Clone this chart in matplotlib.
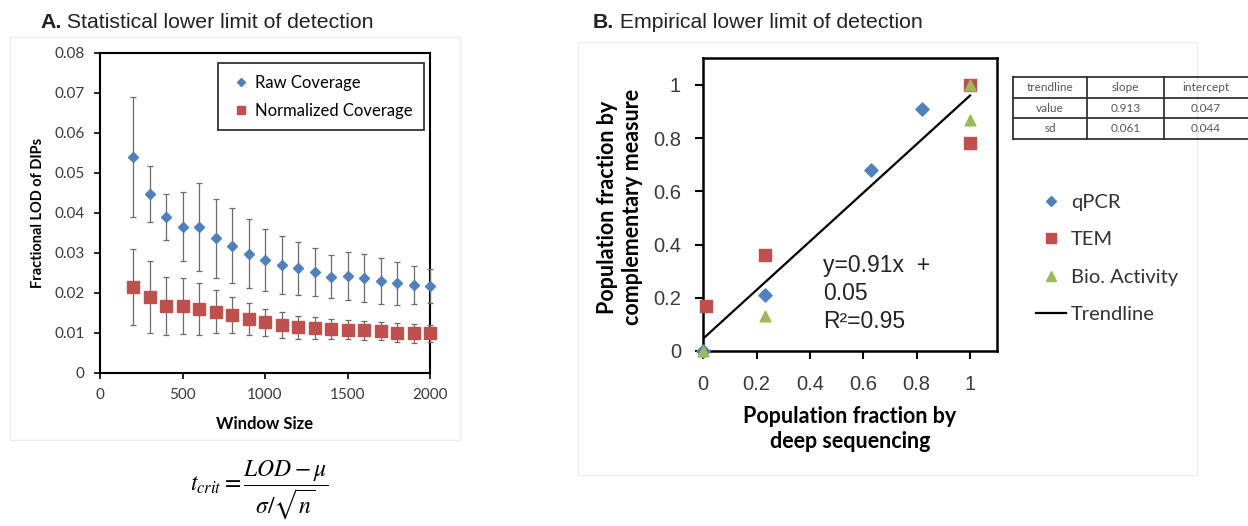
import matplotlib
matplotlib.use("Agg")
import matplotlib.pyplot as plt
from matplotlib.lines import Line2D
from matplotlib.patches import Rectangle
from matplotlib.ticker import FuncFormatter

# ---------------- data ----------------
window_size = [200, 300, 400, 500, 600, 700, 800, 900, 1000, 1100,
               1200, 1300, 1400, 1500, 1600, 1700, 1800, 1900, 2000]
raw_lod = [0.0541, 0.0448, 0.0390, 0.0366, 0.0366, 0.0337, 0.0318, 0.0298, 0.0283, 0.0270,
           0.0262, 0.0252, 0.0241, 0.0243, 0.0238, 0.0230, 0.0224, 0.0220, 0.0218]
raw_err = [0.0150, 0.0070, 0.0057, 0.0087, 0.0110, 0.0099, 0.0094, 0.0086, 0.0077, 0.0073,
           0.0066, 0.0060, 0.0053, 0.0060, 0.0060, 0.0057, 0.0053, 0.0048, 0.0042]
norm_lod = [0.0214, 0.0189, 0.0167, 0.0167, 0.0159, 0.0153, 0.0145, 0.0135, 0.0127, 0.0120,
            0.0114, 0.0112, 0.0109, 0.0108, 0.0107, 0.0105, 0.0101, 0.0099, 0.0099]
norm_err = [0.0095, 0.0090, 0.0073, 0.0070, 0.0065, 0.0054, 0.0045, 0.0040, 0.0034, 0.0033,
            0.0028, 0.0027, 0.0025, 0.0024, 0.0024, 0.0023, 0.0023, 0.0023, 0.0021]

seq_qpcr = [0.0, 0.23, 0.63, 0.82]
frac_qpcr = [0.0, 0.21, 0.68, 0.91]
seq_tem = [0.01, 0.23, 1.0, 1.0]
frac_tem = [0.17, 0.36, 0.78, 1.0]
seq_bio = [0.0, 0.23, 1.0, 1.0]
frac_bio = [0.0, 0.13, 0.87, 1.0]

trend_slope = 0.913
trend_intercept = 0.047
slope_sd = 0.061
intercept_sd = 0.044
r_squared = 0.95

table_header = ["trendline", "slope", "intercept"]
table_rows = [["value", f"{trend_slope:.3f}", f"{trend_intercept:.3f}"],
              ["sd", f"{slope_sd:.3f}", f"{intercept_sd:.3f}"]]

# ---------------- styling ----------------
W, H = 1248, 526
BLUE = "#4F81BD"
RED = "#C0504D"
GREEN = "#9BBB59"
TICK_COLOR = "#3a3a3a"
CAL = ["Lato", "DejaVu Sans"]
ARIAL = ["Liberation Sans", "DejaVu Sans"]

fig = plt.figure(figsize=(W / 100, H / 100), dpi=100)
fig.patch.set_facecolor("white")


def fx(px):
    return px / W


def fy(py):
    return 1 - py / H


def px_axes(x0, y0, x1, y1):
    return fig.add_axes([fx(x0), fy(y1), fx(x1) - fx(x0), fy(y0) - fy(y1)])


# faint panel outlines
for (x0, y0, x1, y1) in [(10, 37, 460, 440), (578, 42, 1197, 475)]:
    fig.patches.append(Rectangle((fx(x0), fy(y1)), fx(x1) - fx(x0), fy(y0) - fy(y1),
                                 transform=fig.transFigure, fill=False,
                                 edgecolor="#ececec", lw=1.0))

# ---------------- panel A ----------------
axA = px_axes(100, 53, 430, 373)
for xs, ys, es, mk, col, ms, lab in [
        (window_size, raw_lod, raw_err, "D", BLUE, 5, "Raw Coverage"),
        (window_size, norm_lod, norm_err, "s", RED, 8, "Normalized Coverage")]:
    cont = axA.errorbar(xs, ys, yerr=es, fmt=mk, color=col, ms=ms,
                        ecolor="#6b6b6b", elinewidth=0.9, capsize=2.5, capthick=0.9,
                        label=lab, zorder=3)
    cont[0].set_clip_on(False)
    for art in cont[1] + cont[2]:
        art.set_clip_on(False)
axA.set_xlim(0, 2000)
axA.set_ylim(0, 0.08)
axA.set_xticks([0, 500, 1000, 1500, 2000])
axA.set_yticks([0, 0.01, 0.02, 0.03, 0.04, 0.05, 0.06, 0.07, 0.08])
axA.yaxis.set_major_formatter(FuncFormatter(lambda v, p: "0" if v == 0 else f"{v:.2f}"))
axA.tick_params(direction="out", length=4, width=1.2, pad=7, colors="black",
                labelcolor=TICK_COLOR, labelsize=11)
for lab in axA.get_xticklabels() + axA.get_yticklabels():
    lab.set_family(CAL)
for s in axA.spines.values():
    s.set_linewidth(1.5)
axA.set_xlabel("Window Size", family=CAL, fontweight="bold", fontsize=12)
axA.xaxis.set_label_coords(0.5, -(424 - 373) / 320)
axA.xaxis.label.set_va("center")
axA.set_ylabel("Fractional LOD of DIPs", family=CAL, fontweight="bold", fontsize=10.5)
axA.yaxis.set_label_coords((38 - 100) / 330, 0.5)
axA.yaxis.label.set_va("center")

hA = [Line2D([], [], marker="D", ls="none", color=BLUE, ms=4),
      Line2D([], [], marker="s", ls="none", color=RED, ms=6)]
legA = axA.legend(hA, ["Raw Coverage", "Normalized Coverage"], loc="upper right",
                  bbox_to_anchor=(fx(424), fy(63)),
                  bbox_transform=fig.transFigure, frameon=True, fancybox=False,
                  edgecolor="black", borderpad=0.7, handlelength=1.3,
                  handletextpad=0.2, labelspacing=0.72, borderaxespad=0,
                  prop={"family": CAL, "size": 12})
legA.get_frame().set_linewidth(1.3)

# ---------------- panel B ----------------
axB = px_axes(703.3, 58.3, 996.7, 351)
xs_line = [0.0, 1.0]
axB.plot(xs_line, [trend_intercept + trend_slope * x for x in xs_line],
         color="black", lw=1.6, zorder=2)
axB.scatter(seq_qpcr, frac_qpcr, marker="D", s=45, color=BLUE, zorder=3, clip_on=False)
axB.scatter(seq_tem, frac_tem, marker="s", s=75, color=RED, zorder=3, clip_on=False)
axB.scatter(seq_bio, frac_bio, marker="^", s=60, color=GREEN, zorder=4, clip_on=False)
axB.set_xlim(0, 1.1)
axB.set_ylim(0, 1.1)
ticksB = [0, 0.2, 0.4, 0.6, 0.8, 1.0]
axB.set_xticks(ticksB)
axB.set_yticks(ticksB)
fmtB = FuncFormatter(lambda v, p: f"{v:.0f}" if abs(v - round(v)) < 1e-9 else f"{v:.1f}")
axB.xaxis.set_major_formatter(fmtB)
axB.yaxis.set_major_formatter(fmtB)
axB.tick_params(direction="out", length=6, width=1.5, pad=10, colors="black",
                labelcolor=TICK_COLOR, labelsize=14.5)
axB.tick_params(axis="x", pad=11)
for lab in axB.get_xticklabels() + axB.get_yticklabels():
    lab.set_family(ARIAL)
for s in axB.spines.values():
    s.set_linewidth(1.8)

axB.set_xlabel("Population fraction by\ndeep sequencing", family=CAL,
               fontweight="bold", fontsize=15.5, linespacing=1.25)
axB.xaxis.set_label_coords(0.5, -(429 - 351) / 292.7)
axB.xaxis.label.set_va("center")
axB.set_ylabel("Population fraction by\ncomplementary measure", family=CAL,
               fontweight="bold", fontsize=15.5, linespacing=1.2)
axB.yaxis.set_label_coords((620 - 703.3) / 293.4, (351 - 207) / 292.7)
axB.yaxis.label.set_va("center")

eq = f"y={trend_slope:.2f}x  +\n{trend_intercept:.2f}\nR\u00b2={r_squared:.2f}"
axB.text(0.45, 0.365, eq, family=ARIAL, fontsize=16.5, va="top", ha="left",
         linespacing=1.28, color="#222222")

legB_handles = [Line2D([], [], marker="D", ls="none", color=BLUE, ms=5),
                Line2D([], [], marker="s", ls="none", color=RED, ms=6.5),
                Line2D([], [], marker="^", ls="none", color=GREEN, ms=6.5),
                Line2D([], [], color="black", lw=1.6)]
legB = fig.legend(legB_handles, ["qPCR", "TEM", "Bio. Activity", "Trendline"],
                  loc="upper left", bbox_to_anchor=(fx(1036), fy(194)),
                  bbox_transform=fig.transFigure, frameon=False, borderpad=0,
                  borderaxespad=0, handlelength=1.5, handletextpad=0.22,
                  labelspacing=1.0, prop={"family": CAL, "size": 14.5})
for t in legB.get_texts():
    t.set_color("#333333")

# trendline statistics table
col_edges = [1013, 1087, 1164, 1252]
row_edges = [77, 98, 118, 139]
for yv in row_edges:
    fig.add_artist(Line2D([fx(col_edges[0]), fx(col_edges[-1])], [fy(yv), fy(yv)],
                          transform=fig.transFigure, color="#333333", lw=1.3))
for xv in col_edges[:-1]:
    fig.add_artist(Line2D([fx(xv), fx(xv)], [fy(row_edges[0]), fy(row_edges[-1])],
                          transform=fig.transFigure, color="#333333", lw=1.3))
for r, row in enumerate([table_header] + table_rows):
    yc = (row_edges[r] + row_edges[r + 1]) / 2
    for c, cell in enumerate(row):
        xc = (col_edges[c] + min(col_edges[c + 1], 1248)) / 2
        fig.text(fx(xc), fy(yc), cell, family=CAL, fontsize=8.5, color="#555555",
                 ha="center", va="center")

# ---------------- titles & formula ----------------
renderer = fig.canvas.get_renderer()
for (x0, tag, rest) in [(40, "A.", " Statistical lower limit of detection"),
                        (593, "B.", " Empirical lower limit of detection")]:
    t1 = fig.text(fx(x0), fy(22), tag, family=ARIAL, fontweight="bold",
                  fontsize=15.3, va="center", ha="left", color="#222222")
    bb = t1.get_window_extent(renderer)
    fig.text(bb.x1 / W, fy(22), rest, family=ARIAL, fontsize=15.3,
             va="center", ha="left", color="#222222")

fig.text(fx(259), fy(490), r"$t_{crit} = \dfrac{LOD - \mu}{\sigma/\sqrt{n}}$",
         fontsize=17, ha="center", va="center", math_fontfamily="stix")

fig.savefig("out.png", dpi=100)
